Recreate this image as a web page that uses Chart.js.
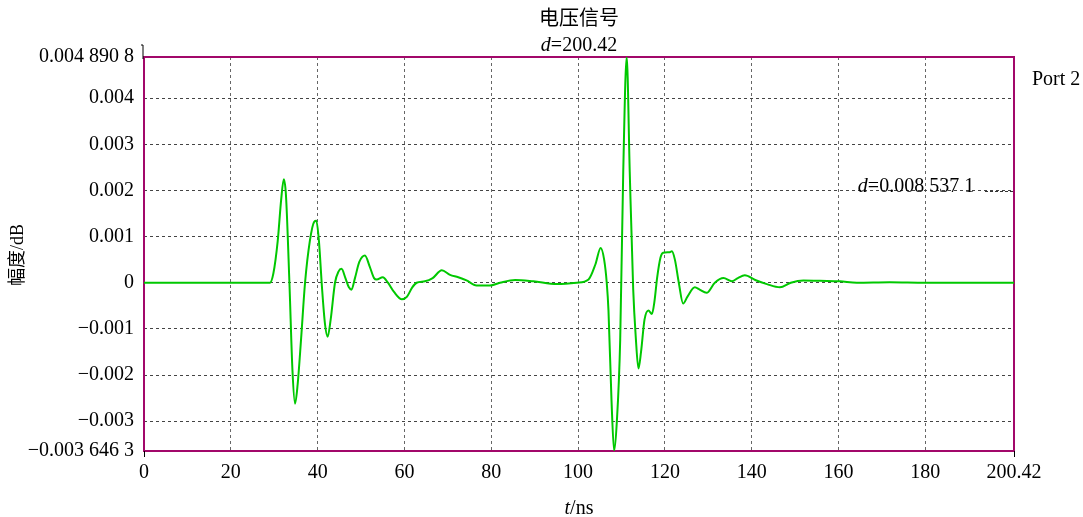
<!DOCTYPE html>
<html>
<head>
<meta charset="utf-8">
<script src="https://cdn.jsdelivr.net/npm/chart.js@4/dist/chart.umd.min.js"></script>
<style>
body{margin:0;background:#fff}
#wrap{width:1083px;height:517px}
</style>
</head>
<body>
<div id="wrap"><canvas id="c"></canvas></div>
<script>
// time axis (ns) and signal amplitude
const times = [0, 29.0, 29.8, 30.8, 31.6, 32.2, 32.7, 33.5, 34.2, 34.8, 35.4, 36.2, 37.1, 38.2, 39.2, 39.7,
  40.3, 41.0, 41.7, 42.3, 43.0, 44.0, 44.8, 45.5, 46.4, 47.2, 47.8, 48.6, 49.6, 50.9, 52.0, 53.0, 53.6,
  55.0, 56.2, 57.6, 59.4, 60.6, 61.8, 62.8, 64.7, 66.5, 68.6, 70.5, 72.4, 74.3, 76.6, 79.7, 82.0, 85.5,
  89.7, 95.1, 99.7, 102.4, 104.0, 105.2, 106.0, 106.6, 107.0, 107.7, 108.3, 108.9, 109.7, 110.4, 111.2,
  111.9, 112.7, 113.3, 113.9, 114.5, 115.3, 116.2, 117.0, 117.6, 118.2, 119.0, 119.6, 121.0, 121.6,
  122.3, 123.2, 124.2, 125.2, 126.9, 128.0, 129.6, 131.5, 133.5, 135.4, 136.8, 138.4, 140.8, 143.5,
  146.5, 149.0, 151.9, 155.7, 160.3, 164.2, 171.8, 180.0, 200.42]
const amplitude = [0, 0, 0.0002, 0.0009, 0.0018, 0.00224, 0.0019, 0.0, -0.0019, -0.00262, -0.0022, -0.0012,
  0.0, 0.0009, 0.00132, 0.00134, 0.0009, -0.0001, -0.0009, -0.00117, -0.0008, 0.0, 0.00024, 0.0003,
  0.0001, -0.0001, -0.00015, 0.0001, 0.00045, 0.00059, 0.00035, 0.0001, 0.00007, 0.00012, 0.0,
  -0.0002, -0.00036, -0.0003, -0.0001, 0.0, 0.00003, 0.0001, 0.00027, 0.00017, 0.00012, 0.00005,
  -0.00006, -0.00006, 0.0, 0.00006, 0.00003, -0.00003, 0.0, 0.00007, 0.0004, 0.00075, 0.0005, 0.0,
  -0.0006, -0.00255, -0.00364, -0.00305, -0.00124, 0.0024, 0.00489, 0.0024, -0.00015, -0.0012,
  -0.00186, -0.0015, -0.0008, -0.0006, -0.00068, -0.0004, 0.0001, 0.00055, 0.00065, 0.00066, 0.00068,
  0.0005, 0.0, -0.00045, -0.0003, -0.0001, -0.00015, -0.00022, 0.0, 0.0001, 0.00003, 0.0001, 0.00016,
  0.00006, -0.00003, -0.0001, 0.0, 0.00005, 0.00004, 0.00003, 0.0, 0.00001, 0.0, 0.0]

const xTickValues = [0, 20, 40, 60, 80, 100, 120, 140, 160, 180, 200.42]
const xTickLabels = ['0', '20', '40', '60', '80', '100', '120', '140', '160', '180', '200.42']
const yTickValues = [-0.0036463, -0.003, -0.002, -0.001, 0, 0.001, 0.002, 0.003, 0.004, 0.0048908]
const yTickLabels = ['\u22120.003 646 3', '\u22120.003', '\u22120.002', '\u22120.001', '0',
  '0.001', '0.002', '0.003', '0.004', '0.004 890 8']

const serif = '"Liberation Serif", "Noto Sans CJK SC", serif'
const frameColor = '#a2086a'
const fontSize = 20

function mixedText(ctx, parts, cx, cy){
    // parts: [text, italic]
    let w = 0
    parts.forEach(p => { ctx.font = (p[1] ? 'italic ' : '') + fontSize + 'px ' + serif; w += ctx.measureText(p[0]).width })
    let x = cx - w / 2
    ctx.textAlign = 'left'
    parts.forEach(p => {
        ctx.font = (p[1] ? 'italic ' : '') + fontSize + 'px ' + serif
        ctx.fillText(p[0], x, cy)
        x += ctx.measureText(p[0]).width
    })
}

const decor = {
  id: 'decor',
  beforeDatasetsDraw(chart){
    const ctx = chart.ctx, a = chart.chartArea
    ctx.save()
    ctx.strokeStyle = frameColor
    ctx.lineWidth = 2
    ctx.strokeRect(a.left, a.top, a.right - a.left, a.bottom - a.top)
    ctx.strokeStyle = '#000'
    ctx.lineWidth = 1
    ctx.beginPath()
    ctx.moveTo(a.left - 3, a.top - 12); ctx.lineTo(a.left - 1, a.top - 12); ctx.lineTo(a.left - 1, a.top + 2)
    ctx.moveTo(a.left + 0.5, a.bottom); ctx.lineTo(a.left + 0.5, a.bottom + 6)
    ctx.moveTo(a.right + 0.5, a.bottom); ctx.lineTo(a.right + 0.5, a.bottom + 6)
    ctx.stroke()
    ctx.restore()
  },
  afterDraw(chart){
    const ctx = chart.ctx, a = chart.chartArea
    ctx.save()
    ctx.fillStyle = '#000'
    ctx.textBaseline = 'middle'
    ctx.font = fontSize + 'px ' + serif
    ctx.textAlign = 'center'
    ctx.fillText('电压信号', (a.left + a.right) / 2, 20)
    mixedText(ctx, [['d', true], ['=200.42', false]], (a.left + a.right) / 2, 46)
    mixedText(ctx, [['t', true], ['/ns', false]], (a.left + a.right) / 2, 509)
    ctx.font = fontSize + 'px ' + serif
    ctx.textAlign = 'left'
    ctx.fillText('Port 2', 1032, 80)
    mixedText(ctx, [['d', true], ['=0.008 537 1', false]], 916, 187)
    ctx.strokeStyle = '#333'
    ctx.setLineDash([3, 2])
    ctx.beginPath()
    ctx.moveTo(985, 191.5); ctx.lineTo(a.right, 191.5)
    ctx.stroke()
    ctx.setLineDash([])
    ctx.translate(18, 255)
    ctx.rotate(-Math.PI / 2)
    ctx.textAlign = 'center'
    ctx.font = '18px ' + serif
    ctx.fillText('幅度/dB', 0, 0)
    ctx.restore()
  }
}

function drawSignal(id){
    const points = times.map((t, i) => ({x: t, y: amplitude[i]}))
    const data = {
  datasets: [{
    label: 'Port 2',
    data: points,
    borderColor: '#00c800',
    borderWidth: 2,
    pointRadius: 0,
    cubicInterpolationMode: 'monotone'
  }]
};
const config = {
  type: 'line',
  data: data,
  options: {
    responsive: true,
    maintainAspectRatio: false,
    animation: false,
    layout: {padding: {top: 57, right: 69, left: 0, bottom: 0}},
    plugins: {legend: {display: false}, tooltip: {enabled: false}},
    scales: {
      x: {
        type: 'linear', min: 0, max: 200.42,
        afterFit: s => { s.height = 66 },
        afterBuildTicks: s => { s.ticks = xTickValues.map(v => ({value: v})) },
        grid: {color: '#666', drawTicks: false},
        border: {display: false, dash: [3, 3]},
        ticks: {
          padding: 10, color: '#000', maxRotation: 0, autoSkip: false,
          font: {family: serif, size: fontSize},
          callback: (v, i) => xTickLabels[i]
        }
      },
      y: {
        min: -0.0036463, max: 0.0048908,
        afterFit: s => { s.width = 144 },
        afterBuildTicks: s => { s.ticks = yTickValues.map(v => ({value: v})) },
        grid: {color: '#444', drawTicks: false},
        border: {display: false, dash: [3, 3]},
        ticks: {
          padding: 10, color: '#000', autoSkip: false,
          font: {family: serif, size: fontSize},
          callback: (v, i) => yTickLabels[i]
        }
      }
    }
  },
  plugins: [decor]
};

let ctx = document.getElementById(id).getContext("2d")
new Chart(ctx, config)
}
drawSignal('c')
</script>
</body>
</html>
